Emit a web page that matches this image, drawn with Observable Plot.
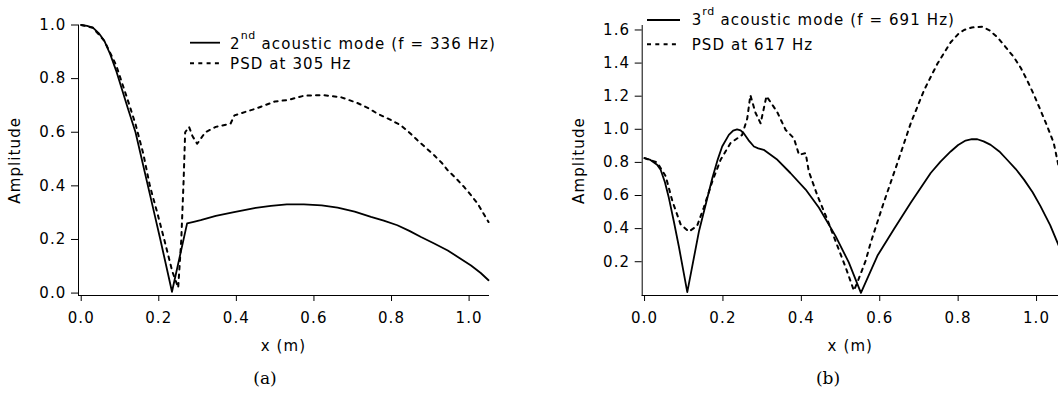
<!DOCTYPE html>
<html>
<head>
<meta charset="utf-8">
<script src="https://cdn.jsdelivr.net/npm/d3@7"></script>
<script src="https://cdn.jsdelivr.net/npm/@observablehq/plot@0.6"></script>
<style>
  body { margin: 0; background: #fff; }
  #wrap { display: flex; width: 1058px; height: 394px; }
  .panel { position: relative; width: 529px; height: 394px; }
  .panel svg.plot { position: absolute; left: 0; top: 0; }
  .legend { position: absolute; left: 0; top: 0; pointer-events: none; }
  .legend text { font-family: "DejaVu Sans", sans-serif; font-size: 15px; letter-spacing: 1.1px; fill: #000; }
  .cap { position: absolute; top: 368px; width: 60px; text-align: center;
         font-family: "DejaVu Serif", "Liberation Serif", serif; font-size: 17px; color: #000; }
</style>
</head>
<body>
<div id="wrap">
  <div class="panel" id="pa"></div>
  <div class="panel" id="pb"></div>
</div>
<script>
// ---------- data ----------
// Panel (a): 2nd acoustic mode (solid) and PSD at 305 Hz (dashed)
const xModeA = [0, 0.015, 0.03, 0.045, 0.06, 0.075, 0.09, 0.105, 0.12, 0.14, 0.156, 0.172, 0.188, 0.204, 0.234, 0.273, 0.29, 0.308, 0.347, 0.394, 0.45, 0.489, 0.53, 0.574, 0.62, 0.661, 0.705, 0.747, 0.78, 0.815, 0.846, 0.876, 0.91, 0.945, 0.975, 1.005, 1.03, 1.05];
const yModeA = [1.0, 0.997, 0.99, 0.97, 0.94, 0.89, 0.83, 0.76, 0.69, 0.60, 0.50, 0.40, 0.30, 0.20, 0.005, 0.26, 0.266, 0.272, 0.288, 0.302, 0.318, 0.325, 0.331, 0.331, 0.327, 0.319, 0.304, 0.284, 0.27, 0.253, 0.232, 0.209, 0.185, 0.159, 0.131, 0.103, 0.075, 0.048];

const xPsdA = [0, 0.03, 0.06, 0.09, 0.12, 0.14, 0.16, 0.177, 0.196, 0.214, 0.235, 0.25, 0.258, 0.264, 0.268, 0.278, 0.287, 0.299, 0.32, 0.347, 0.385, 0.395, 0.45, 0.50, 0.532, 0.574, 0.6, 0.626, 0.669, 0.712, 0.74, 0.764, 0.795, 0.824, 0.845, 0.867, 0.89, 0.91, 0.93, 0.945, 0.965, 0.987, 1.005, 1.022, 1.05];
const yPsdA = [1.0, 0.99, 0.94, 0.85, 0.72, 0.63, 0.52, 0.40, 0.30, 0.20, 0.08, 0.02, 0.2, 0.42, 0.60, 0.62, 0.585, 0.557, 0.60, 0.62, 0.632, 0.663, 0.688, 0.715, 0.72, 0.736, 0.738, 0.738, 0.731, 0.709, 0.69, 0.669, 0.648, 0.626, 0.60, 0.57, 0.54, 0.514, 0.485, 0.458, 0.43, 0.396, 0.365, 0.334, 0.265];

// Panel (b): 3rd acoustic mode (solid) and PSD at 617 Hz (dashed)
const xModeB = [0, 0.015, 0.032, 0.041, 0.052, 0.062, 0.075, 0.088, 0.109, 0.139, 0.173, 0.187, 0.198, 0.215, 0.226, 0.236, 0.245, 0.253, 0.265, 0.279, 0.29, 0.304, 0.339, 0.372, 0.411, 0.445, 0.487, 0.521, 0.552, 0.594, 0.636, 0.679, 0.73, 0.755, 0.781, 0.80, 0.819, 0.835, 0.849, 0.865, 0.883, 0.905, 0.925, 0.947, 0.968, 0.99, 1.01, 1.035, 1.056];
const yModeB = [0.826, 0.815, 0.786, 0.756, 0.68, 0.586, 0.44, 0.286, 0.016, 0.386, 0.706, 0.82, 0.896, 0.966, 0.992, 1.0, 0.993, 0.976, 0.935, 0.896, 0.885, 0.876, 0.816, 0.736, 0.636, 0.526, 0.356, 0.196, 0.012, 0.236, 0.396, 0.556, 0.736, 0.805, 0.866, 0.905, 0.932, 0.94, 0.94, 0.927, 0.906, 0.866, 0.816, 0.76, 0.696, 0.62, 0.536, 0.42, 0.30];

const xPsdB = [0, 0.032, 0.054, 0.071, 0.092, 0.113, 0.134, 0.151, 0.173, 0.194, 0.219, 0.249, 0.262, 0.27, 0.283, 0.296, 0.311, 0.338, 0.36, 0.381, 0.394, 0.411, 0.419, 0.44, 0.466, 0.487, 0.513, 0.534, 0.543, 0.564, 0.577, 0.61, 0.645, 0.679, 0.713, 0.747, 0.781, 0.80, 0.815, 0.835, 0.861, 0.88, 0.90, 0.92, 0.942, 0.96, 0.976, 0.993, 1.01, 1.027, 1.044, 1.056];
const yPsdB = [0.826, 0.80, 0.716, 0.566, 0.426, 0.382, 0.416, 0.526, 0.686, 0.816, 0.916, 0.966, 1.066, 1.206, 1.10, 1.036, 1.20, 1.106, 0.996, 0.946, 0.846, 0.856, 0.746, 0.606, 0.456, 0.326, 0.166, 0.026, 0.076, 0.206, 0.316, 0.556, 0.796, 1.036, 1.236, 1.396, 1.526, 1.575, 1.60, 1.615, 1.62, 1.598, 1.556, 1.50, 1.436, 1.37, 1.296, 1.21, 1.116, 1.02, 0.916, 0.78];

const xTicks = [0, 0.2, 0.4, 0.6, 0.8, 1.0];
const yTicksA = [0, 0.2, 0.4, 0.6, 0.8, 1.0];
const yTicksB = [0.2, 0.4, 0.6, 0.8, 1.0, 1.2, 1.4, 1.6];

const legendA = [{sup: "nd", base: "2", rest: " acoustic mode (f = 336 Hz)"}, "PSD at 305 Hz"];
const legendB = [{sup: "rd", base: "3", rest: " acoustic mode (f = 691 Hz)"}, "PSD at 617 Hz"];
const captions = ["(a)", "(b)"];

const pts = (xs, ys) => xs.map((x, i) => ({x, y: ys[i]}));

// ---------- panel builder ----------
function panel(cfg) {
  const fmt = d3.format(".1f");
  const svg = Plot.plot({
    width: 529, height: 360,
    marginLeft: cfg.ml, marginRight: cfg.mr, marginTop: cfg.mt, marginBottom: 65,
    style: {fontFamily: '"DejaVu Sans", sans-serif', fontSize: "15px", color: "#000", background: "transparent", letterSpacing: "1.1px"},
    x: {domain: cfg.xd, ticks: xTicks, tickFormat: fmt, tickSize: 6, tickPadding: 11,
        label: "x (m)", labelAnchor: "center", labelArrow: "none", labelOffset: 55},
    y: {domain: cfg.yd, ticks: cfg.yTicks, tickFormat: fmt, tickSize: 7, tickPadding: 5,
        label: "Amplitude", labelAnchor: "center", labelArrow: "none", labelOffset: 69},
    marks: [
      Plot.frame({anchor: "left", stroke: "#000", strokeWidth: 1}),
      Plot.frame({anchor: "bottom", stroke: "#000", strokeWidth: 1}),
      Plot.line(cfg.psd, {x: "x", y: "y", stroke: "#000", strokeWidth: 2, strokeDasharray: "3.5,5"}),
      Plot.line(cfg.mode, {x: "x", y: "y", stroke: "#000", strokeWidth: 1.8})
    ]
  });
  svg.classList.add("plot");
  const host = document.getElementById(cfg.id);
  host.appendChild(svg);

  // legend overlay (real text)
  const ns = "http://www.w3.org/2000/svg";
  const lg = document.createElementNS(ns, "svg");
  lg.setAttribute("class", "legend");
  lg.setAttribute("width", 529); lg.setAttribute("height", 80);
  const L = cfg.leg;
  const mk = (tag, attrs) => { const e = document.createElementNS(ns, tag); for (const k in attrs) e.setAttribute(k, attrs[k]); lg.appendChild(e); return e; };
  mk("line", {x1: L.x0, x2: L.x1, y1: L.y1, y2: L.y1, stroke: "#000", "stroke-width": 1.8});
  mk("line", {x1: L.x0, x2: L.x1, y1: L.y2, y2: L.y2, stroke: "#000", "stroke-width": 2, "stroke-dasharray": "4,4.3"});
  const t1 = mk("text", {x: L.tx, y: L.b1});
  const first = cfg.legText[0];
  const s1 = document.createElementNS(ns, "tspan"); s1.textContent = first.base; t1.appendChild(s1);
  const s2 = document.createElementNS(ns, "tspan"); s2.textContent = first.sup; s2.setAttribute("dy", "-10"); s2.setAttribute("font-size", "11px"); s2.setAttribute("letter-spacing", "0.5px"); t1.appendChild(s2);
  const s3 = document.createElementNS(ns, "tspan"); s3.textContent = first.rest; s3.setAttribute("dy", "10"); t1.appendChild(s3);
  const t2 = mk("text", {x: L.tx, y: L.b2}); t2.textContent = cfg.legText[1];
  host.appendChild(lg);

  const cap = document.createElement("div");
  cap.className = "cap";
  cap.style.left = (cfg.capX - 30) + "px";
  cap.textContent = cfg.caption;
  host.appendChild(cap);
}

panel({
  id: "pa", ml: 78, mr: 41, mt: 24.5,
  xd: [-0.007, 1.05], yd: [-0.009, 1.0], yTicks: yTicksA,
  mode: pts(xModeA, yModeA), psd: pts(xPsdA, yPsdA),
  leg: {x0: 190, x1: 220, y1: 42.7, y2: 63.3, tx: 230, b1: 48.5, b2: 68.5},
  legText: legendA, caption: captions[0], capX: 265
});
panel({
  id: "pb", ml: 112.7, mr: 0, mt: 25,
  xd: [-0.006, 1.056], yd: [-0.004, 1.627], yTicks: yTicksB,
  mode: pts(xModeB, yModeB), psd: pts(xPsdB, yPsdB),
  leg: {x0: 118, x1: 151, y1: 20, y2: 44.3, tx: 162.7, b1: 25, b2: 50},
  legText: legendB, caption: captions[1], capX: 299
});
</script>
</body>
</html>
